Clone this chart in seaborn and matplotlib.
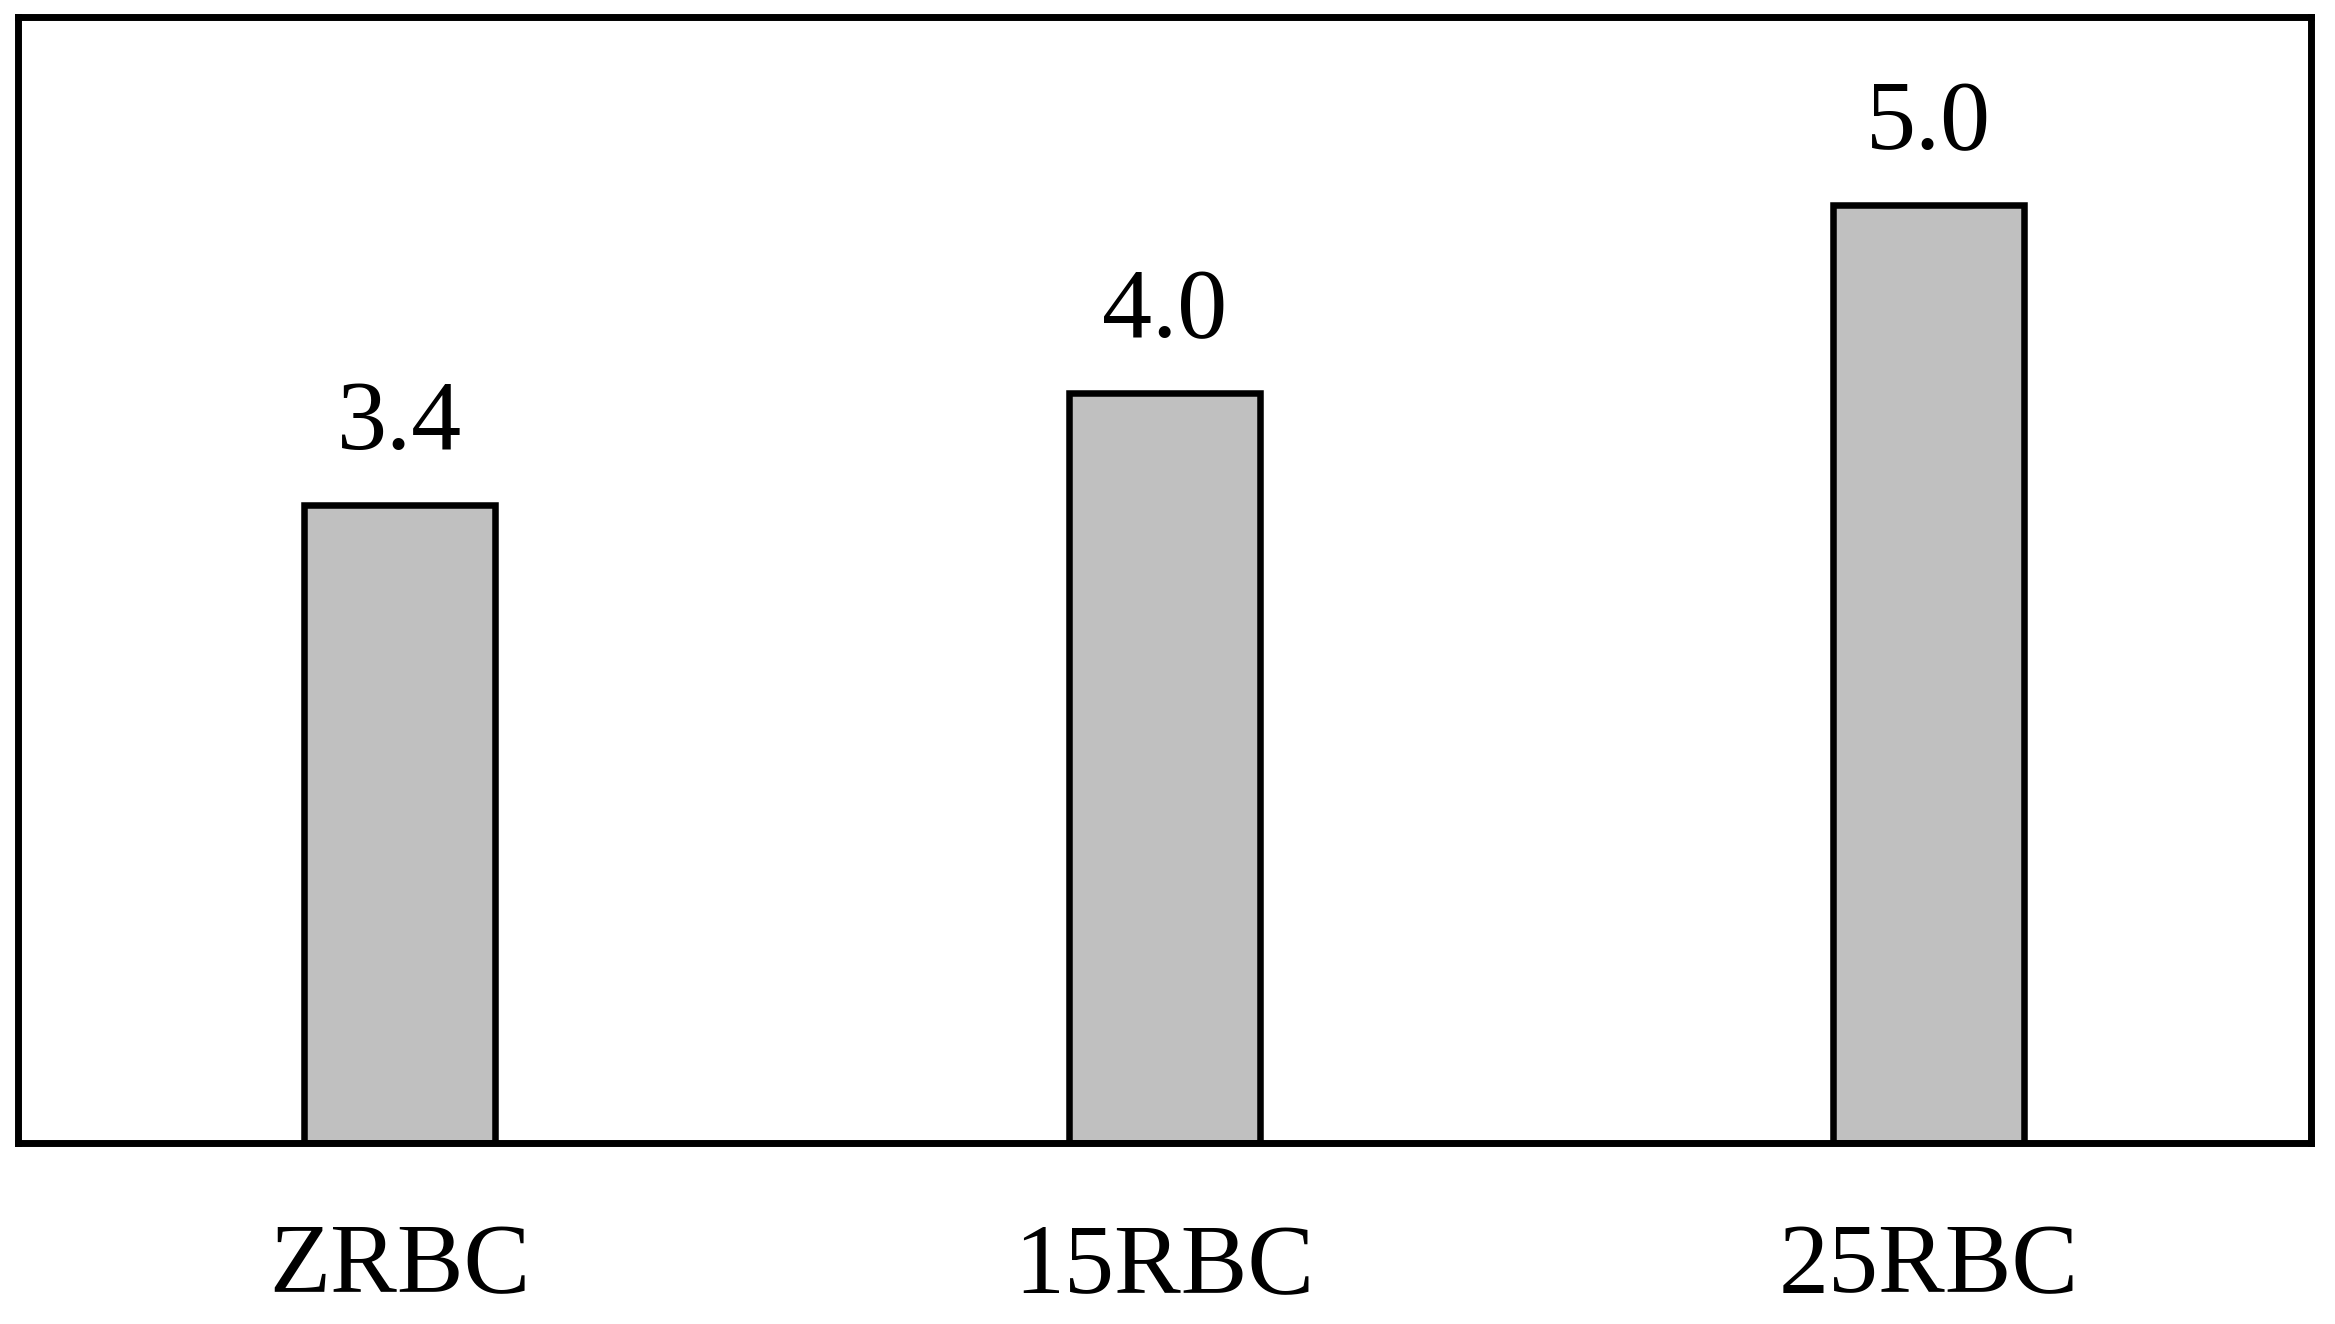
import numpy as np
import pandas as pd
import matplotlib
matplotlib.use("Agg")
import matplotlib.pyplot as plt
import seaborn as sns

samples = ["ZRBC", "15RBC", "25RBC"]
values = [3.4, 4.0, 5.0]

sns.set_style("white")
plt.rcParams["font.family"] = ["Liberation Serif", "DejaVu Serif"]
plt.rcParams["text.color"] = "black"
plt.rcParams["xtick.color"] = "black"

df = pd.DataFrame({"sample": samples, "value": values})

fig = plt.figure(figsize=(23.35, 13.24), dpi=100)
ax = fig.add_axes([0.0075, 0.1367, 0.9822, 0.8501])

sns.barplot(data=df, x="sample", y="value", color="#c0c0c0", saturation=1,
            width=0.25, edgecolor="black", linewidth=4.7, ax=ax)

# value labels above bars
ax.bar_label(ax.containers[0], fmt="%.1f", padding=25, fontsize=72, color="black")

ax.set_xlim(-0.5, 2.5)
ax.set_ylim(0, 6)
ax.set_yticks([])
ax.set_xlabel("")
ax.set_ylabel("")
ax.tick_params(axis="x", length=0, pad=58, labelsize=72, labelcolor="black")
for s in ax.spines.values():
    s.set_visible(True)
    s.set_color("black")
    s.set_linewidth(5)

fig.savefig("out.png", dpi=100, facecolor="white")
